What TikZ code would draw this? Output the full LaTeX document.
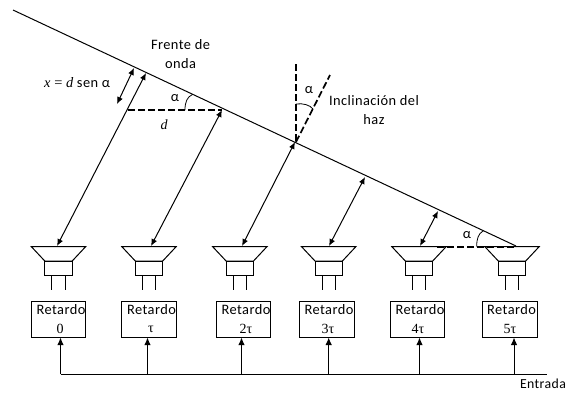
\documentclass[tikz,border=0pt]{standalone}
\usepackage{fontspec}
\setmainfont[LetterSpace=3]{Carlito}
\newfontfamily\serifnum{Liberation Serif}
\usetikzlibrary{arrows.meta}
\tikzset{
	dobleflecha/.style={{Latex[length=7pt,width=6pt]}-{Latex[length=7pt,width=6pt]}, line width=1pt},
	flecha/.style={-{Latex[length=7.5pt,width=6.5pt]}, line width=1pt},
	trazos/.style={line width=1.7pt, dash pattern=on 7pt off 3pt},
	retbox/.style={draw, line width=1pt, minimum width=54.5pt, minimum height=36pt, inner sep=0pt},
	texto/.style={inner sep=0pt, align=center, font=\fontsize{14.4}{19}\selectfont},
}
\begin{document}
\begin{tikzpicture}[x=1pt,y=-1pt]
	\useasboundingbox (0,0) rectangle (577,392);
	% frente de onda
	\coordinate (fr0) at (13,10);
	\coordinate (fr1) at (516,246);
	\draw[line width=1pt] (fr0) -- (fr1);
	\coordinate (w0) at (146,73);
	\coordinate (w1) at (222,110);
	\coordinate (w2) at (295,142);
	\coordinate (w3) at (365,177);
	\coordinate (w4) at (438,211);
	
	% altavoces y retardos
	\foreach \n/\s/\b/\tx/\ty/\bx/\val in {
		0/58.5/58.5/61/60/60.5/0,
		1/149/149/151.5/151/147.5/τ,
		2/239.8/243.7/246/246/241.5/2τ,
		3/328.7/327/329/328/328.7/3τ,
		4/419/417.5/420/418/419.5/4τ,
		5/512/510/511.6/510/514/5τ}{
		\draw[line width=1pt] (\s-27.3,246.5) -- (\s+27.3,246.5) -- (\s+13.7,261) -- (\s-13.7,261) -- cycle;
		\draw[line width=1pt] (\s-13.7,261) rectangle (\s+13.7,275);
		\draw[line width=1pt] (\s-6.7,275) -- (\s-6.7,290) (\s+6.7,275) -- (\s+6.7,290);
		\node[retbox] (ret\n) at (\b,319) {};
		\node[texto] (txt\n) at (\tx,310) {Retardo};
		\node[inner sep=0pt, font=\serifnum\fontsize{14}{16}\selectfont] (val\n) at (\ty,329) {\val};
		\coordinate (bus\n) at (\bx,374);
		\draw[flecha] (bus\n) -- (bus\n |- ret\n.south);
	}
	\coordinate (busfin) at (547,374);
	\draw[line width=1pt] (bus0) -- (busfin);
	\node[texto, font=\fontsize{13.8}{14}\selectfont] (entrada) at (543,384) {Entrada};
	
	% flechas hasta el frente
	\coordinate (sp0) at (57,246);
	\coordinate (sp1) at (151,246);
	\coordinate (sp2) at (242,246);
	\coordinate (sp3) at (329,246);
	\coordinate (sp4) at (420,246);
	\foreach \n in {0,...,4}{
		\draw[dobleflecha] (sp\n) -- (w\n);
	}
	\coordinate (xa) at (134,68);
	\coordinate (xb) at (117,104);
	\draw[dobleflecha] (xa) -- (xb);
	
	% trazos
	\coordinate (da) at (128,110);
	\draw[trazos] (da) -- (w1);
	\coordinate (ea) at (437,247);
	\coordinate (eb) at (516,247);
	\draw[trazos] (ea) -- (eb);
	\coordinate (va) at (296,64);
	\coordinate (vb) at (296,142);
	\coordinate (vc) at (330,75);
	\draw[trazos] (va) -- (vb);
	\draw[trazos] (vb) -- (vc);
	
	% angulos
	\draw[line width=0.8pt] (185,110) .. controls (185,102) and (187,97) .. (192.7,94.3);
	\draw[line width=0.8pt] (476.7,246.5) .. controls (476.7,239) and (478,234) .. (483.3,230.7);
	\draw[line width=0.8pt] (296,104) .. controls (303,103) and (310,105) .. (313,109);
	
	% textos
	\node[texto] (frente) at (180.5,54.5) {Frente de\\onda};
	\node[texto, anchor=west] (dist) at (44,83) {{\serifnum\itshape x} {\serifnum=} {\serifnum\itshape d} sen α};
	\node[texto] (a0) at (175,98.5) {α};
	\node[texto, font=\serifnum\itshape\fontsize{14}{16}\selectfont] (dlab) at (164,125) {d};
	\node[texto] (a1) at (309,90) {α};
	\node[texto] (incl) at (374,110.5) {Inclinación del\\haz};
	\node[texto] (a2) at (467,235) {α};
\end{tikzpicture}
\end{document}
